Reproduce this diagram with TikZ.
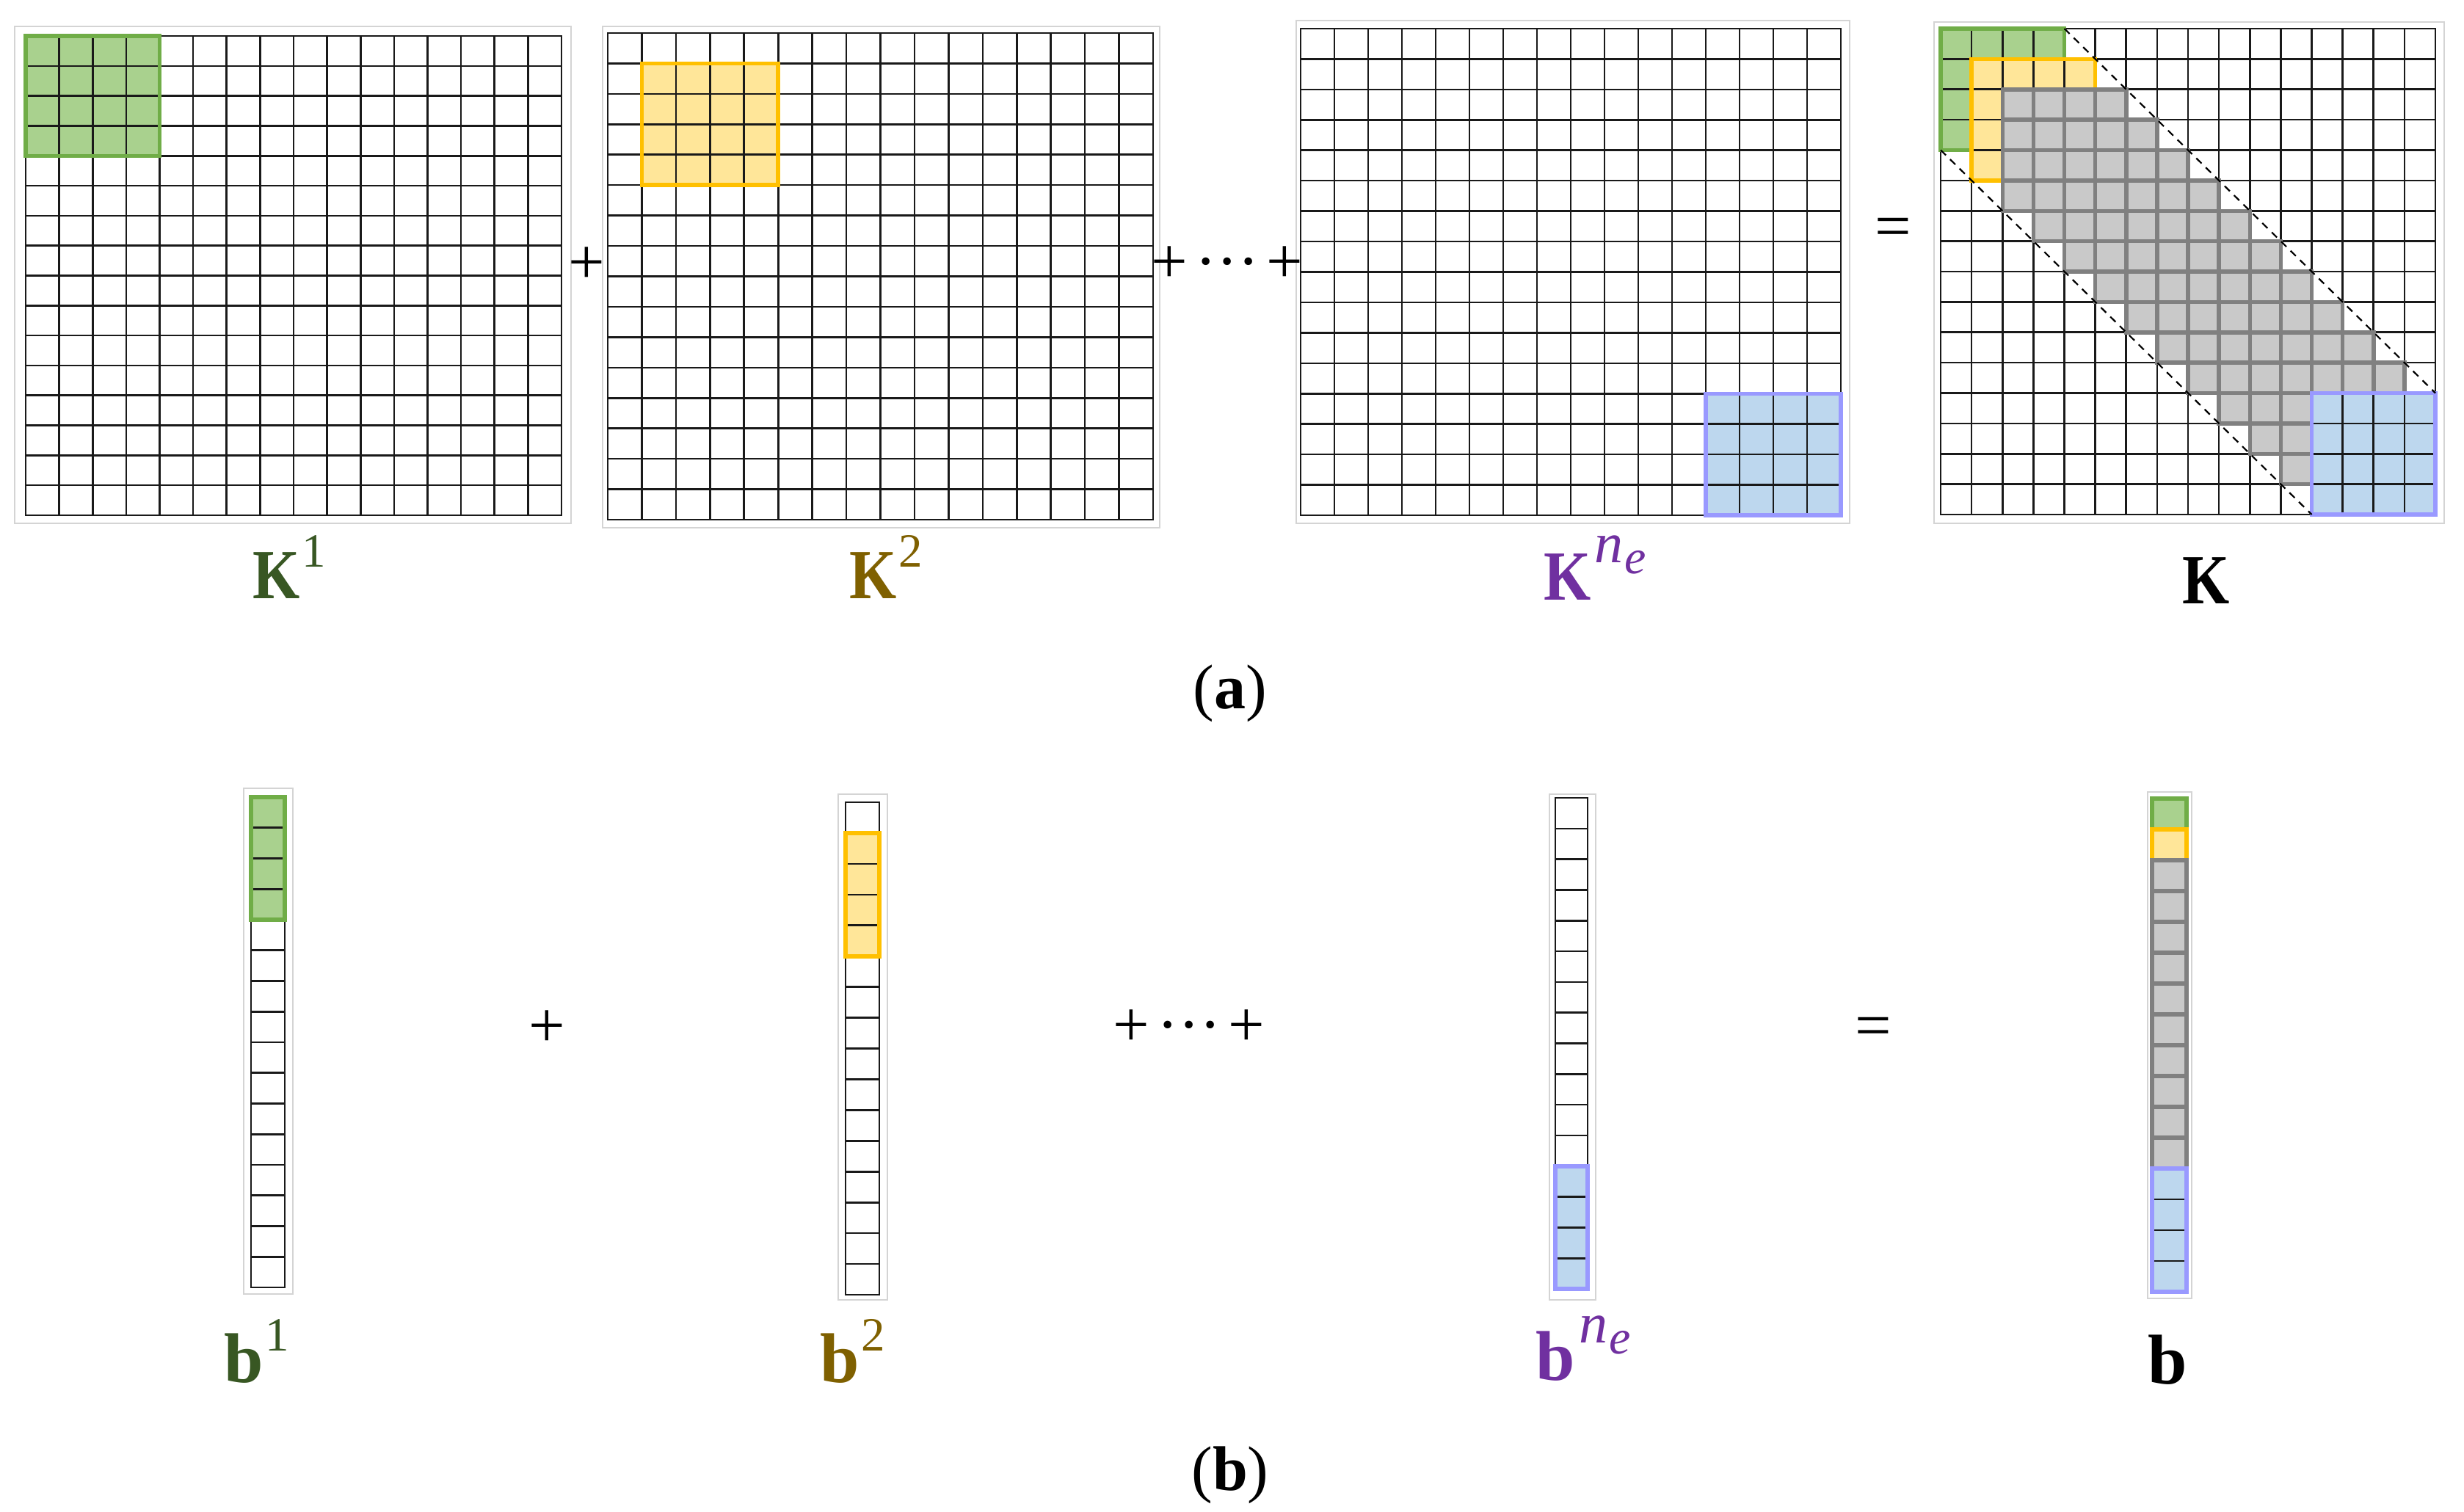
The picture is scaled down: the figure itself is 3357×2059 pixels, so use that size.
\documentclass[tikz,border=0pt]{standalone}
\usepackage{fontspec}
\setmainfont{Liberation Serif}
\usepackage{graphicx}
\definecolor{gF}{RGB}{169,209,142}
\definecolor{gB}{RGB}{112,173,71}
\definecolor{yF}{RGB}{255,230,153}
\definecolor{yB}{RGB}{255,192,0}
\definecolor{bF}{RGB}{189,215,238}
\definecolor{bB}{RGB}{153,153,255}
\definecolor{grF}{RGB}{201,201,201}
\definecolor{grB}{RGB}{128,128,128}
\definecolor{tG}{RGB}{56,87,35}
\definecolor{tY}{RGB}{127,96,0}
\definecolor{tP}{RGB}{112,48,160}
\definecolor{frameC}{RGB}{212,212,212}
\tikzset{
  gridl/.style={draw=black!90, line width=2.6pt, line cap=rect},
  frm/.style={draw=frameC, line width=1.5pt},
  dashl/.style={draw=black, line width=2.2pt, dash pattern=on 10pt off 8pt},
  lab/.style={inner sep=0pt, anchor=base, font=\fontsize{96}{100}\selectfont\bfseries},
  opr/.style={inner sep=0pt, anchor=base, font=\fontsize{88}{90}\selectfont},
  capt/.style={inner sep=0pt, anchor=base, font=\fontsize{86}{90}\selectfont},
}
\newcommand{\bwid}{5.5pt}
\newcommand{\cgrid}[4]{%
  \foreach \cc in {#1,...,#3}{\draw[gridl] (\cc,#2) -- (\cc,#4);}%
  \foreach \rr in {#2,...,#4}{\draw[gridl] (#1,\rr) -- (#3,\rr);}%
}
\newcommand{\blk}[6]{%
  \fill[#5] (#1,#2) rectangle (#3,#4);
  \cgrid{#1}{#2}{#3}{#4}
  \draw[draw=#6, line width=\bwid] (#1,#2) rectangle (#3,#4);
}
\newcommand{\supd}[1]{\kern3pt\raisebox{43pt}{\fontsize{65}{65}\selectfont\mdseries #1}}
\newcommand{\supne}{\kern5pt\raisebox{51pt}{\fontsize{78}{78}\selectfont\mdseries\itshape n}\kern2pt\raisebox{36pt}{\fontsize{66}{66}\selectfont\mdseries\itshape e}}
\newcommand{\KK}{\scalebox{0.86}[1]{K}}
\newcommand{\pdots}{+\kern10pt·\kern0pt·\kern0pt·\kern10pt+}
\begin{document}
\begin{tikzpicture}[x=1pt,y=-1pt]
\useasboundingbox (0,0) rectangle (3357,2059);
\fill[white] (0,0) rectangle (3357,2059);

% light frames
\draw[frm] (20,36) rectangle (778,713);
\draw[frm] (821,36) rectangle (1580,719);
\draw[frm] (1766,28) rectangle (2520,713);
\draw[frm] (2635,30) rectangle (3330,713);
\draw[frm] (332,1074) rectangle (399,1763);
\draw[frm] (1142,1082) rectangle (1209,1771);
\draw[frm] (2111,1082) rectangle (2174,1771);
\draw[frm] (2926,1079) rectangle (2986,1769);

% K1
\begin{scope}[shift={(35,49)}, x={(45.625pt,0pt)}, y={(0pt,-40.8125pt)}]
\cgrid{0}{0}{16}{16}
\blk{0}{0}{4}{4}{gF}{gB}
\end{scope}
% K2
\begin{scope}[shift={(828,45)}, x={(46.4375pt,0pt)}, y={(0pt,-41.4375pt)}]
\cgrid{0}{0}{16}{16}
\blk{1}{1}{5}{5}{yF}{yB}
\end{scope}
% Kne
\begin{scope}[shift={(1772,39)}, x={(46pt,0pt)}, y={(0pt,-41.4375pt)}]
\cgrid{0}{0}{16}{16}
\blk{12}{12}{16}{16}{bF}{bB}
\end{scope}
% K
\begin{scope}[shift={(2644,39)}, x={(42.125pt,0pt)}, y={(0pt,-41.375pt)}]
\cgrid{0}{0}{16}{16}
\blk{0}{0}{4}{4}{gF}{gB}
\blk{1}{1}{5}{5}{yF}{yB}
\foreach \i in {2,...,14}{\foreach \j in {2,...,14}{%
  \pgfmathtruncatemacro{\ok}{(abs(\i-\j)<4)*(1-(\i>11)*(\j>11))}%
  \ifnum\ok=1 \fill[grF] (\j,\i) rectangle ++(1,1);\fi}}
\foreach \i in {2,...,14}{\foreach \j in {2,...,14}{%
  \pgfmathtruncatemacro{\ok}{(abs(\i-\j)<4)*(1-(\i>11)*(\j>11))}%
  \ifnum\ok=1 \draw[draw=grB, line width=\bwid] (\j,\i) rectangle ++(1,1);\fi}}
\blk{12}{12}{16}{16}{bF}{bB}
\draw[dashl] (4,0) -- (16,12);
\draw[dashl] (0,4) -- (12,16);
\end{scope}

% vectors
\begin{scope}[shift={(342,1086)}, x={(46pt,0pt)}, y={(0pt,-41.75pt)}]
\def\bwid{6pt}
\cgrid{0}{0}{1}{16}
\blk{0}{0}{1}{4}{gF}{gB}
\end{scope}
\begin{scope}[shift={(1152,1093)}, x={(46pt,0pt)}, y={(0pt,-41.9375pt)}]
\def\bwid{6pt}
\cgrid{0}{0}{1}{16}
\blk{0}{1}{1}{5}{yF}{yB}
\end{scope}
\begin{scope}[shift={(2119,1087)}, x={(44pt,0pt)}, y={(0pt,-41.8125pt)}]
\def\bwid{6pt}
\cgrid{0}{0}{1}{16}
\blk{0}{12}{1}{16}{bF}{bB}
\end{scope}
\begin{scope}[shift={(2932,1088)}, x={(47pt,0pt)}, y={(0pt,-42pt)}]
\def\bwid{6pt}
\cgrid{0}{0}{1}{16}
\blk{0}{0}{1}{4}{gF}{gB}
\blk{0}{1}{1}{5}{yF}{yB}
\foreach \i in {2,...,11}{\fill[grF] (0,\i) rectangle ++(1,1);}
\foreach \i in {2,...,11}{\draw[draw=grB, line width=\bwid] (0,\i) rectangle ++(1,1);}
\blk{0}{12}{1}{16}{bF}{bB}
\end{scope}

% labels
\node[lab, text=tG] (lK1) at (394,815) {\KK\supd{1}};
\node[lab, text=tY] (lK2) at (1207,815) {\KK\supd{2}};
\node[lab, text=tP] (lKn) at (2173,817) {\KK\supne};
\node[lab] (lK) at (3006,822) {\KK};
\node[lab, text=tG] (lb1) at (350,1883) {b\supd{1}};
\node[lab, text=tY] (lb2) at (1162,1883) {b\supd{2}};
\node[lab, text=tP] (lbn) at (2157,1880) {b\supne};
\node[lab] (lb) at (2953,1885) {b};

% operators
\node[opr] (p1) at (799,386) {+};
\node[opr] (p2) at (1672,385) {\pdots};
\node[opr] (eq1) at (2579,337) {=};
\node[opr] (p3) at (745,1426) {+};
\node[opr] (p4) at (1620,1425) {\pdots};
\node[opr] (eq2) at (2552,1426) {=};

% captions
\node[capt] (ca) at (1676,965) {(\textbf{a})};
\node[capt] (cb) at (1676,2030) {(\textbf{b})};
\end{tikzpicture}
\end{document}
